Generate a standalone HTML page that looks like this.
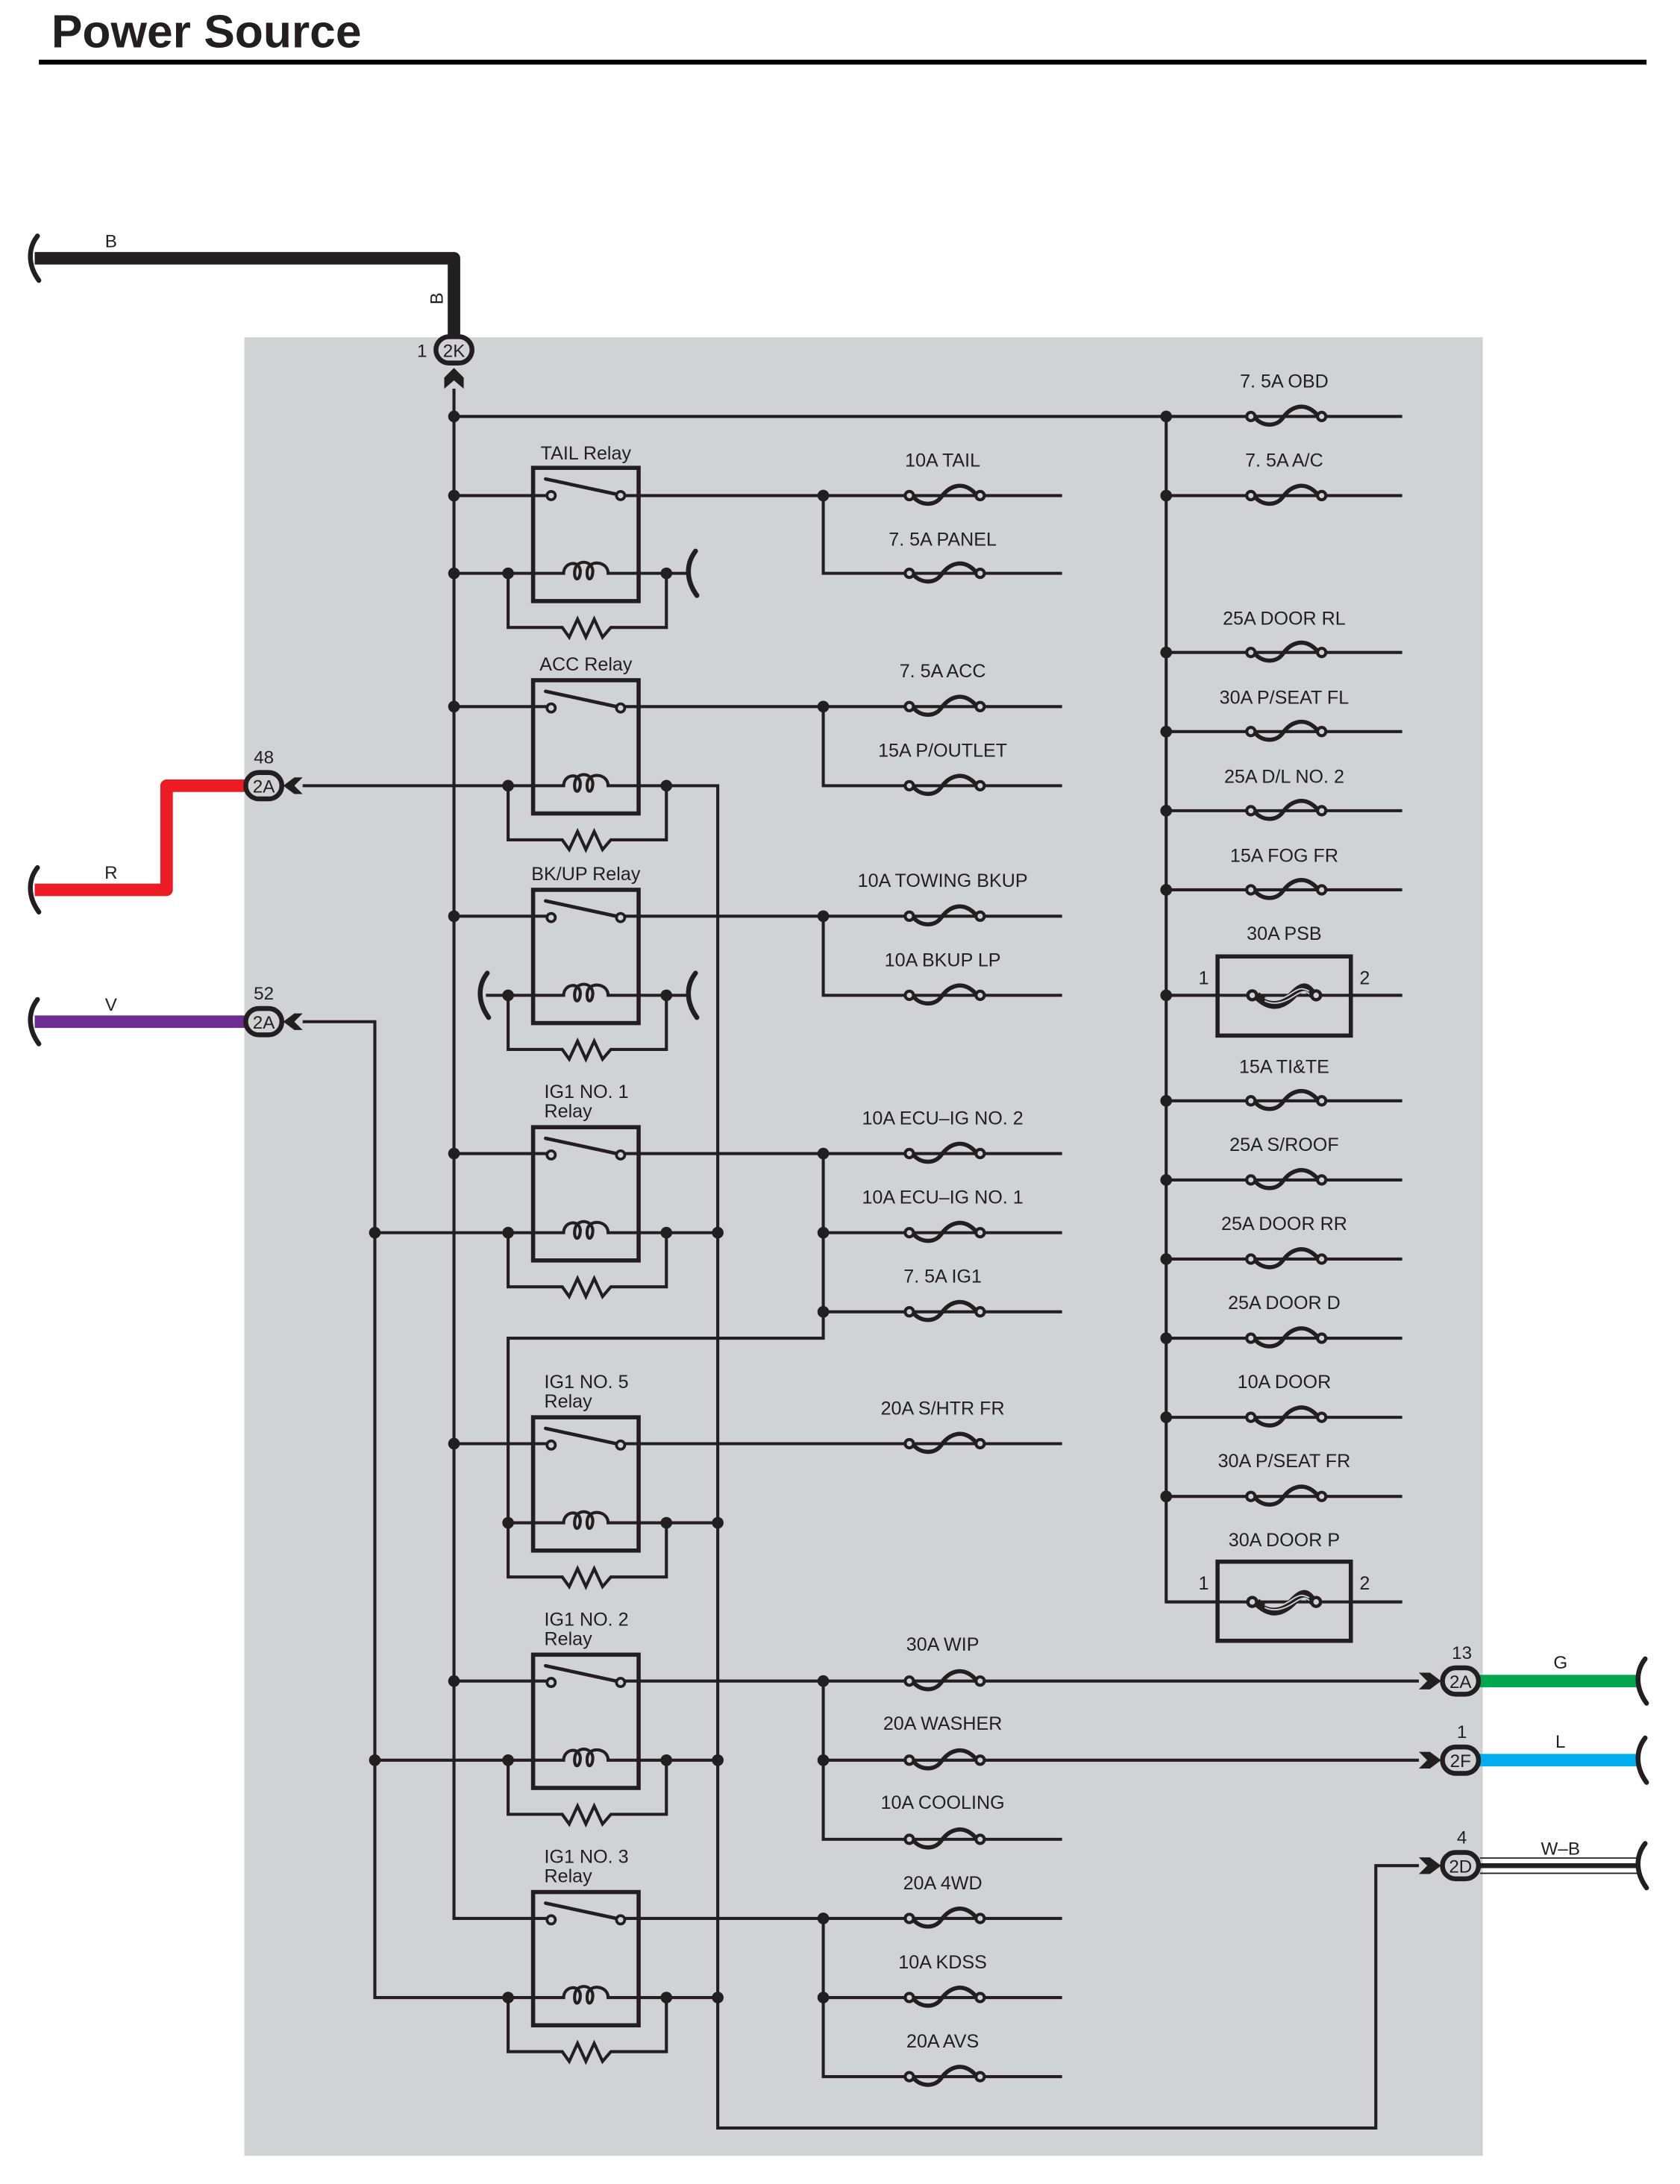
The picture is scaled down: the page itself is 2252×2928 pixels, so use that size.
<!DOCTYPE html>
<html><head><meta charset="utf-8"><style>
html,body{margin:0;padding:0;background:#fff;}
svg{display:block;}
text{font-family:"Liberation Sans",Arial,sans-serif;fill:#231f20;}
</style></head><body>
<svg width="2252" height="2928" viewBox="0 0 1210.1 1573.3" xmlns="http://www.w3.org/2000/svg">
<defs>
<g id="fuse">
<circle cx="-25" cy="0" r="3" fill="#d1d2d4" stroke="#231f20" stroke-width="2.2"/>
<circle cx="26" cy="0" r="3" fill="#d1d2d4" stroke="#231f20" stroke-width="2.2"/>
<path d="M-22,1 C-17,7 -7,8 -2,1 S13,-12 23,-1" fill="none" stroke="#231f20" stroke-width="3"/>
</g>
<g id="sq"><path d="M2,-16 C-5,-7 -5,5 3,16" fill="none" stroke="#231f20" stroke-width="3.5" stroke-linecap="round"/></g>
<g id="link">
<path d="M-20,0 C-10,10 -2,8 6,0 S16,-7 21,0" fill="none" stroke="#231f20" stroke-width="6"/>
<path d="M-14,2 C-6,6 0,2 6,-2 S14,-5 18,-3" fill="none" stroke="#d1d2d4" stroke-width="1"/>
<path d="M-14,4 C-6,8 2,4 8,0 S16,-3 18,-1" fill="none" stroke="#d1d2d4" stroke-width="1"/>
<circle cx="-23" cy="0" r="3.2" fill="#d1d2d4" stroke="#231f20" stroke-width="2.4"/>
<circle cx="23" cy="0" r="3.2" fill="#d1d2d4" stroke="#231f20" stroke-width="2.4"/>
</g>
<g id="relay">
<rect x="384" y="0" width="76" height="96" fill="none" stroke="#231f20" stroke-width="3"/>
<line x1="393" y1="8" x2="444" y2="19" stroke="#231f20" stroke-width="2.5" stroke-linecap="round"/>
<circle cx="397" cy="20" r="3" fill="#d1d2d4" stroke="#231f20" stroke-width="2"/>
<circle cx="447" cy="20" r="3" fill="#d1d2d4" stroke="#231f20" stroke-width="2"/>
<path d="M366,76 H406 C406,68 417,66 418,74 C418,82 413,82 414,74 C415,66 426,66 427,74 C427,82 422,82 423,74 C424,66 438,67 438,76 H480" fill="none" stroke="#231f20" stroke-width="2.2"/>
<path d="M366,76 V115 H405 L410,122 L416,109 L422,122 L428,109 L434,122 L440,115 H480 V76" fill="none" stroke="#231f20" stroke-width="2.2"/>
<circle cx="366" cy="76" r="4.2" fill="#231f20"/>
<circle cx="480" cy="76" r="4.2" fill="#231f20"/>
</g>
<g id="conn">
<rect x="-13" y="-9.5" width="26" height="19" rx="9.5" fill="#d1d2d4" stroke="#231f20" stroke-width="3.5"/>
</g>
</defs>

<text x="37" y="34" font-size="33.5" font-weight="bold" fill="#000">Power Source</text>
<rect x="28" y="43" width="1158" height="3.5" fill="#000"/>

<rect x="176" y="243" width="892" height="1310" fill="#d1d2d4"/>

<path d="M25,186 H327 V246" fill="none" stroke="#231f20" stroke-width="9" stroke-linejoin="round"/>
<use href="#sq" x="25" y="186"/>
<text x="80" y="178" font-size="13" text-anchor="middle">B</text>
<text transform="translate(319,215) rotate(-90)" font-size="13" text-anchor="middle">B</text>
<use href="#conn" x="327" y="252"/>
<text x="304" y="257" font-size="13" text-anchor="middle">1</text>
<text x="327" y="257" font-size="13" text-anchor="middle">2K</text>
<polygon points="327,265 334,272 334,280 327,274 320,280 320,272" fill="#231f20"/>

<path d="M25,641 H120 V566 H176" fill="none" stroke="#ed1c24" stroke-width="9" stroke-linejoin="round"/>
<use href="#sq" x="25" y="641"/>
<text x="80" y="633" font-size="13" text-anchor="middle">R</text>
<use href="#conn" x="190" y="566"/>
<text x="190" y="550" font-size="13" text-anchor="middle">48</text>
<text x="190" y="571" font-size="13" text-anchor="middle">2A</text>
<polygon points="204,566 212,560 218,560 212,566 218,572 212,572" fill="#231f20"/>
<path d="M25,736 H176" fill="none" stroke="#6d2c91" stroke-width="9"/>
<use href="#sq" x="25" y="736"/>
<text x="80" y="728" font-size="13" text-anchor="middle">V</text>
<use href="#conn" x="190" y="736"/>
<text x="190" y="720" font-size="13" text-anchor="middle">52</text>
<text x="190" y="741" font-size="13" text-anchor="middle">2A</text>
<polygon points="204,736 212,730 218,730 212,736 218,742 212,742" fill="#231f20"/>

<path d="M1066,1211 H1180" stroke="#00a650" stroke-width="9"/>
<path d="M1066,1268 H1180" stroke="#00aeef" stroke-width="9"/>
<path d="M1066,1338.5 H1180 M1066,1349.5 H1180" stroke="#231f20" stroke-width="1"/>
<path d="M1066,1344 H1180" stroke="#231f20" stroke-width="3.5"/>
<use href="#sq" x="1183" y="1211"/>
<use href="#sq" x="1183" y="1268"/>
<use href="#sq" x="1183" y="1344"/>
<text x="1124" y="1202" font-size="13" text-anchor="middle">G</text>
<text x="1124" y="1259" font-size="13" text-anchor="middle">L</text>
<text x="1124" y="1336" font-size="13" text-anchor="middle">W–B</text>
<g>
<use href="#conn" x="1052" y="1211"/><text x="1052" y="1216" font-size="13" text-anchor="middle">2A</text><text x="1053" y="1195" font-size="13" text-anchor="middle">13</text>
<polygon points="1038,1211 1030,1205 1022,1205 1028,1211 1022,1217 1030,1217" fill="#231f20"/>
<use href="#conn" x="1052" y="1268"/><text x="1052" y="1273" font-size="13" text-anchor="middle">2F</text><text x="1053" y="1252" font-size="13" text-anchor="middle">1</text>
<polygon points="1038,1268 1030,1262 1022,1262 1028,1268 1022,1274 1030,1274" fill="#231f20"/>
<use href="#conn" x="1052" y="1344"/><text x="1052" y="1349" font-size="13" text-anchor="middle">2D</text><text x="1053" y="1328" font-size="13" text-anchor="middle">4</text>
<polygon points="1038,1344 1030,1338 1022,1338 1028,1344 1022,1350 1030,1350" fill="#231f20"/>
</g>

<g fill="none" stroke="#231f20" stroke-width="2.2">
<path d="M327,280 V1382 H397"/>
<path d="M327,300 H1010"/>
<path d="M840,300 V1154 H1010"/>
<path d="M840,357 H1010 M840,470 H1010 M840,527 H1010 M840,584 H1010 M840,641 H1010 M840,717 H1010 M840,793 H1010 M840,850 H1010 M840,907 H1010 M840,964 H1010 M840,1021 H1010 M840,1078 H1010"/>
<path d="M327,357 H397 M447,357 H765"/>
<path d="M327,509 H397 M447,509 H765"/>
<path d="M327,660 H397 M447,660 H765"/>
<path d="M327,831 H397 M447,831 H765"/>
<path d="M327,1040 H397 M447,1040 H765"/>
<path d="M327,1211 H397 M447,1211 H1022"/>
<path d="M447,1382 H765"/>
<path d="M593,357 V413 H765"/>
<path d="M593,509 V566 H765"/>
<path d="M593,660 V717 H765"/>
<path d="M593,831 V964 H366 V1097"/>
<path d="M593,888 H765 M593,945 H765"/>
<path d="M593,1211 V1325 H765"/>
<path d="M593,1268 H1022"/>
<path d="M593,1382 V1496 H765"/>
<path d="M593,1439 H765"/>
<path d="M327,413 H366 M480,413 H496"/>
<path d="M218,566 H366 M480,566 H517 V1533 H991 V1344 H1022"/>
<path d="M350,717 H366 M480,717 H496"/>
<path d="M218,736 H270 V1439 H366"/>
<path d="M270,888 H366 M480,888 H517"/>
<path d="M480,1097 H517"/>
<path d="M270,1268 H366 M480,1268 H517"/>
<path d="M480,1439 H517"/>
</g>

<use href="#sq" x="499" y="413"/>
<use href="#sq" x="349" y="717"/>
<use href="#sq" x="499" y="717"/>

<use href="#relay" y="337"/>
<use href="#relay" y="490"/>
<use href="#relay" y="641"/>
<use href="#relay" y="812"/>
<use href="#relay" y="1021"/>
<use href="#relay" y="1192"/>
<use href="#relay" y="1363"/>
<g font-size="13.5">
<text x="422" y="331" text-anchor="middle">TAIL Relay</text>
<text x="422" y="483" text-anchor="middle">ACC Relay</text>
<text x="422" y="634" text-anchor="middle">BK/UP Relay</text>
<text x="392" y="791">IG1 NO. 1</text><text x="392" y="805">Relay</text>
<text x="392" y="1000">IG1 NO. 5</text><text x="392" y="1014">Relay</text>
<text x="392" y="1171">IG1 NO. 2</text><text x="392" y="1185">Relay</text>
<text x="392" y="1342">IG1 NO. 3</text><text x="392" y="1356">Relay</text>
</g>

<g>
<use href="#fuse" x="680" y="357"/><use href="#fuse" x="680" y="413"/>
<use href="#fuse" x="680" y="509"/><use href="#fuse" x="680" y="566"/>
<use href="#fuse" x="680" y="660"/><use href="#fuse" x="680" y="717"/>
<use href="#fuse" x="680" y="831"/><use href="#fuse" x="680" y="888"/><use href="#fuse" x="680" y="945"/>
<use href="#fuse" x="680" y="1040"/>
<use href="#fuse" x="680" y="1211"/><use href="#fuse" x="680" y="1268"/><use href="#fuse" x="680" y="1325"/>
<use href="#fuse" x="680" y="1382"/><use href="#fuse" x="680" y="1439"/><use href="#fuse" x="680" y="1496"/>
</g>
<g font-size="13.5" text-anchor="middle">
<text x="679" y="336">10A TAIL</text>
<text x="679" y="393">7. 5A PANEL</text>
<text x="679" y="488">7. 5A ACC</text>
<text x="679" y="545">15A P/OUTLET</text>
<text x="679" y="639">10A TOWING BKUP</text>
<text x="679" y="696">10A BKUP LP</text>
<text x="679" y="810">10A ECU–IG NO. 2</text>
<text x="679" y="867">10A ECU–IG NO. 1</text>
<text x="679" y="924">7. 5A IG1</text>
<text x="679" y="1019">20A S/HTR FR</text>
<text x="679" y="1189">30A WIP</text>
<text x="679" y="1246">20A WASHER</text>
<text x="679" y="1303">10A COOLING</text>
<text x="679" y="1361">20A 4WD</text>
<text x="679" y="1418">10A KDSS</text>
<text x="679" y="1475">20A AVS</text>
</g>

<g>
<use href="#fuse" x="926" y="300"/><use href="#fuse" x="926" y="357"/>
<use href="#fuse" x="926" y="470"/><use href="#fuse" x="926" y="527"/>
<use href="#fuse" x="926" y="584"/><use href="#fuse" x="926" y="641"/>
<use href="#fuse" x="926" y="793"/><use href="#fuse" x="926" y="850"/>
<use href="#fuse" x="926" y="907"/><use href="#fuse" x="926" y="964"/>
<use href="#fuse" x="926" y="1021"/><use href="#fuse" x="926" y="1078"/>
</g>
<rect x="877" y="689" width="96" height="57" fill="#d1d2d4" stroke="#231f20" stroke-width="3"/>
<line x1="840" y1="717" x2="1010" y2="717" stroke="#231f20" stroke-width="2.2"/>
<use href="#link" x="925" y="717"/>
<rect x="877" y="1125" width="96" height="57" fill="#d1d2d4" stroke="#231f20" stroke-width="3"/>
<line x1="840" y1="1154" x2="1010" y2="1154" stroke="#231f20" stroke-width="2.2"/>
<use href="#link" x="925" y="1154"/>
<g font-size="13.5" text-anchor="middle">
<text x="925" y="279">7. 5A OBD</text>
<text x="925" y="336">7. 5A A/C</text>
<text x="925" y="450">25A DOOR RL</text>
<text x="925" y="507">30A P/SEAT FL</text>
<text x="925" y="564">25A D/L NO. 2</text>
<text x="925" y="621">15A FOG FR</text>
<text x="925" y="677">30A PSB</text>
<text x="925" y="773">15A TI&amp;TE</text>
<text x="925" y="829">25A S/ROOF</text>
<text x="925" y="886">25A DOOR RR</text>
<text x="925" y="943">25A DOOR D</text>
<text x="925" y="1000">10A DOOR</text>
<text x="925" y="1057">30A P/SEAT FR</text>
<text x="925" y="1114">30A DOOR P</text>
<text x="867" y="709">1</text><text x="983" y="709">2</text>
<text x="867" y="1145">1</text><text x="983" y="1145">2</text>
</g>

<g fill="#231f20">
<circle cx="327" cy="300" r="4.2"/><circle cx="840" cy="300" r="4.2"/>
<circle cx="840" cy="357" r="4.2"/><circle cx="840" cy="470" r="4.2"/><circle cx="840" cy="527" r="4.2"/>
<circle cx="840" cy="584" r="4.2"/><circle cx="840" cy="641" r="4.2"/><circle cx="840" cy="717" r="4.2"/>
<circle cx="840" cy="793" r="4.2"/><circle cx="840" cy="850" r="4.2"/><circle cx="840" cy="907" r="4.2"/>
<circle cx="840" cy="964" r="4.2"/><circle cx="840" cy="1021" r="4.2"/><circle cx="840" cy="1078" r="4.2"/>
<circle cx="327" cy="357" r="4.2"/><circle cx="327" cy="413" r="4.2"/><circle cx="327" cy="509" r="4.2"/>
<circle cx="327" cy="660" r="4.2"/><circle cx="327" cy="831" r="4.2"/><circle cx="327" cy="1040" r="4.2"/>
<circle cx="327" cy="1211" r="4.2"/>
<circle cx="593" cy="357" r="4.2"/><circle cx="593" cy="509" r="4.2"/><circle cx="593" cy="660" r="4.2"/>
<circle cx="593" cy="831" r="4.2"/><circle cx="593" cy="888" r="4.2"/><circle cx="593" cy="945" r="4.2"/>
<circle cx="593" cy="1211" r="4.2"/><circle cx="593" cy="1268" r="4.2"/>
<circle cx="593" cy="1382" r="4.2"/><circle cx="593" cy="1439" r="4.2"/>
<circle cx="270" cy="888" r="4.2"/><circle cx="270" cy="1268" r="4.2"/>
<circle cx="517" cy="888" r="4.2"/><circle cx="517" cy="1097" r="4.2"/>
<circle cx="517" cy="1268" r="4.2"/><circle cx="517" cy="1439" r="4.2"/>
</g>
</svg>
</body></html>
